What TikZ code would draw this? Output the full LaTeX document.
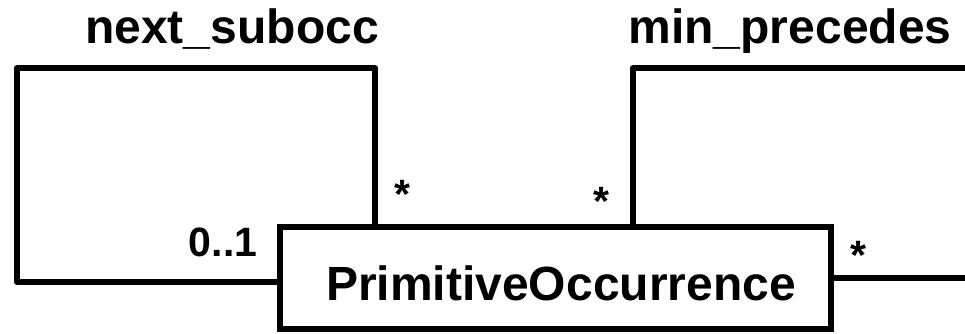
\documentclass[tikz,border=0pt]{standalone}
\usepackage{fontspec}
\setmainfont{Liberation Sans}
\usepackage{tikz}
\pgfdeclarelayer{bg}
\pgfsetlayers{bg,main}

\begin{document}
\begin{tikzpicture}[x=1pt,y=-1pt,
        class/.style={draw,line width=6pt,fill=white,inner sep=0pt,
                minimum width=551pt,minimum height=102pt,text height=44pt,text depth=0pt,
                font=\fontsize{48}{52}\selectfont\bfseries},
        role/.style={anchor=base,font=\fontsize{48}{52}\selectfont\bfseries},
        mult/.style={font=\fontsize{41}{44}\selectfont\bfseries},
        assoc/.style={line width=6pt,line join=round}]
        \useasboundingbox (0,0) rectangle (965,334);
        \node (occ) [class] at (555.5,278) {\hspace*{11pt}PrimitiveOccurrence};
        \node (r1) [role] at (232,44) {next\_subocc};
        \node (r2) [role] at (790,44) {min\_precedes};
        \node (m1) [mult] at (223,242) {0..1};
        \node (m2) [mult] at (402,194) {*};
        \node (m3) [mult] at (601,201) {*};
        \node (m4) [mult] at (858,255) {*};
        \coordinate (subR) at (375,0);
        \coordinate (subL) at (17,68);
        \coordinate (subB) at (0,282);
        \coordinate (preL) at (633,0);
        \coordinate (preR) at (975,68);
        \begin{pgfonlayer}{bg}
                \draw [assoc] (occ.north -| subR) |- (subL) |- (occ.west |- subB);
                \draw [assoc] (occ.north -| preL) |- (preR);
                \draw [assoc] (occ.east) -- (occ.east -| preR);
        \end{pgfonlayer}
\end{tikzpicture}
\end{document}
